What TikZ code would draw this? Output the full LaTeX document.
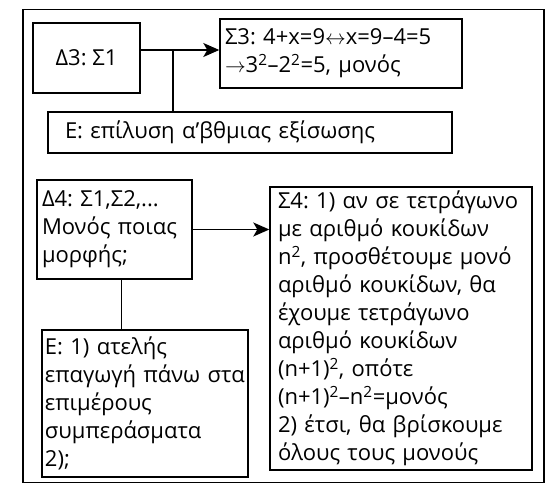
\documentclass[tikz,border=0pt]{standalone}
\usepackage{fontspec}
\setmainfont{Open Sans}
\usepackage{tikz}
\usetikzlibrary{positioning, arrows.meta}

\begin{document}
\begin{tikzpicture}[
  x=1pt, y=-1pt,
  box/.style={rectangle, draw, line width=1.4pt, inner sep=2pt, font=\fontsize{22}{28}\selectfont\frenchspacing},
  leftbox/.style={box, align=left},
  arrow/.style={-{Stealth[length=16pt, width=14pt, inset=4pt]}, line width=1.4pt},
  link/.style={line width=1.4pt}
]
\useasboundingbox (0,0) rectangle (555,492);
\node[draw, line width=1.4pt, minimum width=521pt, minimum height=473pt] (frame) at (283.5,246) {};

\node[box, minimum width=107pt, minimum height=70pt] (d3) at (86.5,58) {Δ3: Σ1};
\node[leftbox, minimum width=242pt, minimum height=69pt, text width=232pt] (s3) at (341,53.5)
  {Σ3: 4+x=9$\leftrightarrow$x=9–4=5\\$\rightarrow$3\textsuperscript{2}–2\textsuperscript{2}=5, μονός};
\node[leftbox, minimum width=404pt, minimum height=41pt, text width=370pt] (e1) at (250,132.5)
  {Ε: επίλυση α’βθμιας εξίσωσης};

\node[leftbox, minimum width=155pt, minimum height=99pt, text width=145pt] (d4) at (114.5,229.5)
  {Δ4: Σ1,Σ2,...\\Μονός ποιας\\μορφής;};
\node[leftbox, minimum width=262pt, minimum height=283pt, text width=246pt] (s4) at (401,328.5)
  {Σ4: 1) αν σε τετράγωνο\\με αριθμό κουκίδων\\n\textsuperscript{2}, προσθέτουμε μονό\\αριθμό κουκίδων, θα\\έχουμε τετράγωνο\\αριθμό κουκίδων\\(n+1)\textsuperscript{2}, οπότε\\(n+1)\textsuperscript{2}–n\textsuperscript{2}=μονός\\2) έτσι, θα βρίσκουμε\\όλους τους μονούς};
\node[leftbox, minimum width=206pt, minimum height=147pt, text width=200pt] (e2) at (145,403.5)
  {Ε: 1) ατελής\\επαγωγή πάνω στα\\επιμέρους\\συμπεράσματα\\2);};

\coordinate (j1) at (173,50);
\draw[arrow] (d3.east |- j1) -- (s3.west |- j1);
\draw[link] (j1) -- (j1 |- e1.north);
\draw[arrow] (d4.east) -- (s4.west |- d4.east);
\draw[link] ([xshift=7pt]d4.south) -- ([xshift=7pt]d4.south |- e2.north);
\end{tikzpicture}
\end{document}
